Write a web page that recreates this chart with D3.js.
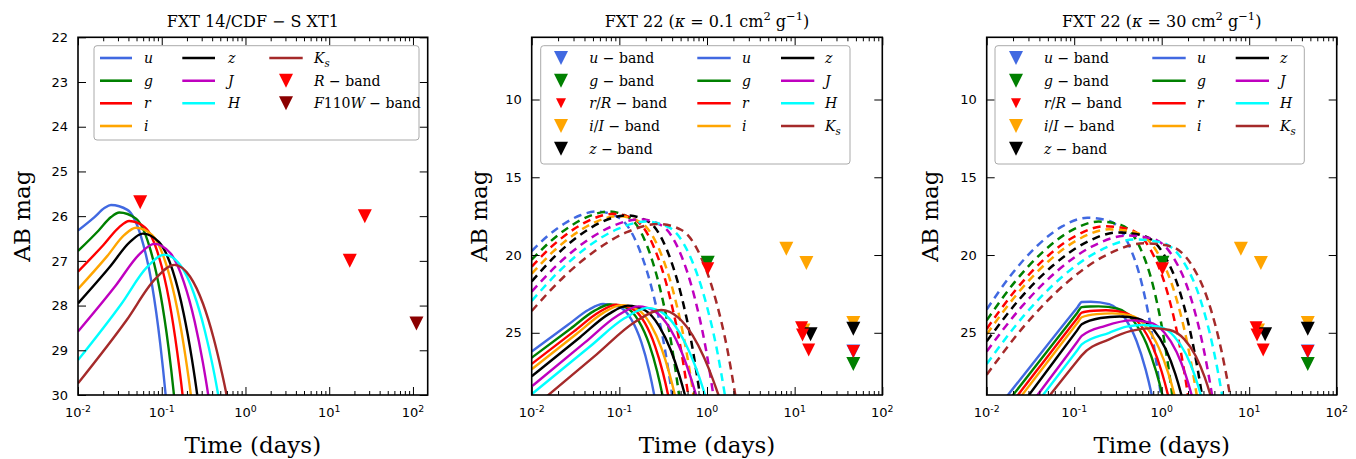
<!DOCTYPE html>
<html><head><meta charset="utf-8">
<script src="https://cdn.jsdelivr.net/npm/d3@7"></script>
<style>body{margin:0;background:#fff}svg{display:block}</style>
</head><body>
<svg id="c" width="1356" height="459"></svg>
<script>
// ---------------- DATA ----------------
const bands = ["u","g","r","i","z","J","H","Ks"];
const xDecadesLeft = [0.01,0.1,1,10,100];
const xDecades = [0.01,0.1,1,10,100];
const yTicksLeft = [22,23,24,25,26,27,28,29,30];
const yTicksMid = [10,15,20,25];
const yTicksRight = [10,15,20,25];

// Panel 1: FXT 14 / CDF-S XT1  [time (days), AB mag]
const fxt14_u = [[0.0100,26.32],[0.01574,26.02],[0.02065,25.82],[0.02477,25.75],[0.0389,25.86],[0.0566,26.46],[0.0766,27.54],[0.0959,28.85],[0.1114,30.0],[0.1294,31.4]];
const fxt14_g = [[0.0100,26.78],[0.01764,26.32],[0.02480,26.02],[0.03112,25.92],[0.0489,26.05],[0.0711,26.67],[0.0961,27.72],[0.1205,28.94],[0.1400,30.0],[0.1626,31.3]];
const fxt14_r = [[0.0100,27.24],[0.02023,26.64],[0.0309,26.25],[0.0409,26.11],[0.0635,26.26],[0.0916,26.88],[0.1230,27.90],[0.1531,29.04],[0.1774,30.0],[0.2056,31.2]];
const fxt14_i = [[0.0100,27.63],[0.02218,26.90],[0.0358,26.42],[0.0492,26.26],[0.0774,26.43],[0.1130,27.08],[0.1528,28.06],[0.1914,29.12],[0.2228,30.0],[0.2594,31.1]];
const fxt14_z = [[0.0100,27.95],[0.02432,27.12],[0.0415,26.58],[0.0592,26.39],[0.0929,26.58],[0.1352,27.22],[0.1824,28.17],[0.2286,29.18],[0.2655,30.0],[0.3083,31.0]];
const fxt14_J = [[0.0100,28.58],[0.02854,27.54],[0.0536,26.86],[0.0815,26.62],[0.1271,26.83],[0.1841,27.48],[0.2477,28.36],[0.3097,29.27],[0.3589,30.0],[0.4159,30.9]];
const fxt14_H = [[0.0100,29.22],[0.03273,27.97],[0.0667,27.14],[0.1072,26.86],[0.1671,27.10],[0.2421,27.73],[0.3258,28.55],[0.4074,29.36],[0.4721,30.0],[0.5470,30.8]];
const fxt14_Ks = [[0.0100,29.74],[0.0376,28.34],[0.0832,27.41],[0.1413,27.09],[0.2173,27.35],[0.3112,27.96],[0.4150,28.72],[0.5152,29.45],[0.5943,30.0],[0.6861,30.7]];
const fxt14_Rband = [[0.0553,25.69],[17.6,27.0],[26.6,26.0]];
const fxt14_F110W = [[110,28.4]];

// Panel 2: FXT 22, kappa = 0.1 (solid)
const k01_u = [[0.0100,26.20],[0.02550,24.52],[0.04472,23.52],[0.0650,23.15],[0.0974,23.31],[0.1364,24.12],[0.1785,25.62],[0.2185,27.42],[0.250,29.0],[0.286,30.94]];
const k01_g = [[0.0100,26.60],[0.02793,24.72],[0.05170,23.59],[0.0780,23.18],[0.1179,23.37],[0.1665,24.25],[0.2194,25.75],[0.2699,27.49],[0.310,29.0],[0.3556,30.82]];
const k01_r = [[0.0100,27.00],[0.03034,24.91],[0.05904,23.66],[0.0920,23.20],[0.1385,23.43],[0.1948,24.35],[0.2559,25.87],[0.3140,27.56],[0.360,29.0],[0.4122,30.70]];
const k01_i = [[0.0100,27.35],[0.03238,25.08],[0.06559,23.72],[0.1050,23.22],[0.1602,23.49],[0.2278,24.48],[0.3020,25.99],[0.3730,27.64],[0.430,29.0],[0.4944,30.59]];
const k01_z = [[0.0100,27.80],[0.03536,25.30],[0.07543,23.80],[0.1250,23.25],[0.1960,23.55],[0.2851,24.58],[0.3847,26.09],[0.4818,27.70],[0.560,29.0],[0.6502,30.51]];
const k01_J = [[0.0100,28.45],[0.04060,25.62],[0.09410,23.92],[0.1650,23.30],[0.2597,23.66],[0.3793,24.74],[0.5134,26.24],[0.6445,27.78],[0.750,29.0],[0.8724,30.40]];
const k01_H = [[0.0100,28.95],[0.04581,25.90],[0.1142,24.07],[0.2100,23.40],[0.3302,23.82],[0.4817,24.95],[0.6516,26.42],[0.8175,27.86],[0.950,29.0],[1.105,30.27]];
const k01_Ks = [[0.0100,29.90],[0.05474,26.40],[0.1519,24.29],[0.3000,23.53],[0.4709,24.02],[0.6855,25.17],[0.9262,26.59],[1.161,27.96],[1.350,29.0],[1.568,30.15]];
// Panel 2 dashed
const k01d_u = [[0.0100,19.75],[0.01531,18.76],[0.02344,17.99],[0.03589,17.44],[0.0550,17.2],[0.0997,17.61],[0.1637,19.44],[0.2434,22.51],[0.3280,25.93],[0.400,29.0],[0.4877,32.5]];
const k01d_g = [[0.0100,20.30],[0.01656,19.10],[0.02738,18.16],[0.04530,17.50],[0.0750,17.2],[0.1309,17.61],[0.2081,19.44],[0.3016,22.51],[0.3985,25.93],[0.480,29.0],[0.5776,32.5]];
const k01d_r = [[0.0100,20.75],[0.01707,19.43],[0.02914,18.40],[0.04972,17.67],[0.0849,17.35],[0.1534,17.76],[0.2511,19.56],[0.3724,22.59],[0.5005,25.97],[0.610,29.0],[0.7420,32.5]];
const k01d_i = [[0.0100,21.20],[0.01766,19.77],[0.03114,18.64],[0.05498,17.85],[0.0970,17.5],[0.1755,17.90],[0.2876,19.69],[0.4271,22.68],[0.5743,26.01],[0.700,29.0],[0.8527,32.45]];
const k01d_z = [[0.0100,21.70],[0.01861,20.06],[0.03463,18.76],[0.06445,17.85],[0.1200,17.45],[0.2143,17.85],[0.3475,19.65],[0.5117,22.65],[0.6839,26.0],[0.830,29.0],[1.007,32.5]];
const k01d_J = [[0.0100,22.35],[0.02030,20.55],[0.04121,19.13],[0.08366,18.14],[0.1698,17.7],[0.3038,18.10],[0.4932,19.85],[0.7270,22.79],[0.9723,26.06],[1.180,29.0],[1.433,32.4]];
const k01d_H = [[0.0100,22.95],[0.02114,20.98],[0.04471,19.42],[0.09456,18.34],[0.2000,17.85],[0.3731,18.24],[0.6274,19.97],[0.9511,22.87],[1.299,26.10],[1.600,29.0],[1.969,32.35]];
const k01d_Ks = [[0.0100,23.60],[0.02300,21.43],[0.05290,19.73],[0.1217,18.53],[0.2799,18.0],[0.5123,18.39],[0.8476,20.09],[1.268,22.95],[1.716,26.14],[2.100,29.0],[2.568,32.3]];

// Panel 3: FXT 22, kappa = 30 (solid)
const k30_u = [[0.0139,29.71],[0.0175,29.0],[0.1086,23.37],[0.122,23.02],[0.155,23.0],[0.2506,23.16],[0.3742,24.0],[0.5158,25.53],[0.6557,27.37],[0.770,29.0],[0.904,30.99]];
const k30_g = [[0.01589,29.72],[0.0200,29.0],[0.1086,23.71],[0.122,23.35],[0.152,23.31],[0.190,23.3],[0.3147,23.45],[0.4789,24.25],[0.6702,25.71],[0.8621,27.46],[1.02,29.0],[1.207,30.89]];
const k30_r = [[0.01811,29.73],[0.0228,29.0],[0.1086,24.06],[0.122,23.70],[0.1675,23.58],[0.230,23.55],[0.3758,23.70],[0.5654,24.46],[0.7843,25.85],[1.002,27.52],[1.18,29.0],[1.39,30.8]];
const k30_i = [[0.02014,29.73],[0.0254,29.0],[0.1086,24.37],[0.122,24.0],[0.1816,23.8],[0.270,23.75],[0.4422,23.89],[0.6677,24.62],[0.9277,25.97],[1.187,27.58],[1.40,29.0],[1.651,30.74]];
const k30_z = [[0.02415,29.75],[0.0304,29.0],[0.1086,24.83],[0.122,24.45],[0.2005,24.05],[0.330,23.95],[0.5376,24.09],[0.8078,24.79],[1.118,26.08],[1.427,27.63],[1.68,29.0],[1.977,30.67]];
const k30_J = [[0.03027,29.75],[0.0381,29.0],[0.1086,25.58],[0.122,25.2],[0.2272,24.55],[0.45,24.2],[0.7244,24.33],[1.077,25.0],[1.480,26.23],[1.877,27.70],[2.2,29.0],[2.578,30.59]];
const k30_H = [[0.035,29.74],[0.0441,29.0],[0.1086,26.12],[0.122,25.75],[0.2512,25.0],[0.398,24.6],[0.6,24.5],[0.9526,24.62],[1.400,25.25],[1.905,26.40],[2.401,27.78],[2.8,29.0],[3.267,30.49]];
const k30_Ks = [[0.04207,29.70],[0.0530,29.0],[0.1086,26.80],[0.122,26.45],[0.2512,25.42],[0.4467,24.88],[0.78,24.7],[1.234,24.82],[1.809,25.41],[2.456,26.51],[3.090,27.84],[3.6,29.0],[4.196,30.42]];
// Panel 3 dashed
const k30d_u = [[0.0100,23.50],[0.01938,21.22],[0.03758,19.42],[0.07286,18.16],[0.1413,17.6],[0.2523,17.81],[0.4093,19.19],[0.6026,22.01],[0.8054,25.65],[0.9772,29.0],[1.186,33.2]];
const k30d_g = [[0.0100,24.20],[0.02089,21.74],[0.04365,19.81],[0.09120,18.45],[0.1905,17.85],[0.3404,18.06],[0.5521,19.40],[0.8128,22.17],[1.086,25.72],[1.318,29.0],[1.600,33.1]];
const k30d_r = [[0.0100,24.75],[0.02175,22.20],[0.04732,20.18],[0.1029,18.78],[0.2239,18.15],[0.4315,18.35],[0.7454,19.66],[1.155,22.35],[1.603,25.81],[1.995,29.0],[2.483,33.0]];
const k30d_i = [[0.0100,25.10],[0.02239,22.49],[0.05012,20.43],[0.1122,18.99],[0.2512,18.35],[0.5012,18.55],[0.8913,19.83],[1.413,22.47],[1.995,25.87],[2.512,29.0],[3.162,32.9]];
const k30d_z = [[0.0100,25.55],[0.02371,22.84],[0.05623,20.71],[0.1334,19.22],[0.3162,18.55],[0.6138,18.75],[1.067,20.0],[1.660,22.59],[2.312,25.93],[2.884,29.0],[3.597,32.9]];
const k30d_J = [[0.0100,26.20],[0.02512,23.32],[0.06310,21.05],[0.1585,19.46],[0.3981,18.75],[0.7806,18.94],[1.369,20.18],[2.145,22.72],[3.003,25.99],[3.758,29.0],[4.704,32.8]];
const k30d_H = [[0.0100,27.00],[0.02661,23.90],[0.07079,21.46],[0.1884,19.76],[0.5012,19.0],[0.9931,19.19],[1.756,20.39],[2.770,22.87],[3.899,26.06],[4.898,29.0],[6.152,32.7]];
const k30d_Ks = [[0.0100,27.70],[0.02818,24.43],[0.07943,21.85],[0.2239,20.05],[0.6310,19.25],[1.242,19.43],[2.183,20.61],[3.428,23.02],[4.808,26.13],[6.026,29.0],[7.551,32.6]];

// FXT 22 upper limits (both right panels)
const fxt22_uband = [[46.7,26.2]];
const fxt22_gband = [[1.02,20.5],[46.7,27.0]];
const fxt22_iband = [[8.03,19.59],[13.6,20.51],[12.6,24.85],[46.7,24.37]];
const fxt22_zband = [[15.2,25.1],[46.7,24.74]];
const fxt22_rband = [[1.02,20.88],[12.0,24.67],[12.3,25.14],[14.45,26.11],[46.7,26.2]];

// ---------------- STYLE ----------------
const C = {u:"#4169e1", g:"#008000", r:"#ff0000", i:"#ffa500", z:"#000000", J:"#bf00bf", H:"#00ffff", Ks:"#a52a2a"};
const SERIF = "'DejaVu Serif', serif";
const SANS = "'DejaVu Sans', sans-serif";
const svg = d3.select("#c");

function tri(s){ const h=s/2; return `M${-h},${-h}L${h},${-h}L0,${h}Z`; }

function rich(sel, parts, size){
  let shift = 0;
  parts.forEach(([s,type])=>{
    const ts = sel.append("tspan").text(s);
    let target = 0, fs = size;
    if(type==="sup"){ target = -0.42*size; fs = 0.72*size; }
    if(type==="isub"){ target = 0.28*size; fs = 0.72*size; }
    ts.attr("dy", target-shift).attr("font-size", fs);
    shift = target;
    if(type==="i" || type==="isub") ts.attr("font-style","italic");
  });
}

function drawPanel(cfg){
  const x = d3.scaleLog().domain(cfg.xdom).range([cfg.left, cfg.right]);
  const y = d3.scaleLinear().domain(cfg.ydom).range([cfg.top, cfg.bottom]);
  const g = svg.append("g");
  const cid = "clip"+cfg.id;
  svg.append("clipPath").attr("id",cid).append("rect")
    .attr("x",cfg.left).attr("y",cfg.top).attr("width",cfg.right-cfg.left).attr("height",cfg.bottom-cfg.top);
  const plot = g.append("g").attr("clip-path",`url(#${cid})`);
  const line = d3.line().x(d=>x(d[0])).y(d=>y(d[1])).curve(d3.curveMonotoneX);
  (cfg.dashed||[]).forEach(s=>{
    plot.append("path").attr("d",line(s.data)).attr("fill","none")
      .attr("stroke",s.color).attr("stroke-width",2.5).attr("stroke-dasharray","8,5.5");
  });
  cfg.solid.forEach(s=>{
    plot.append("path").attr("d",line(s.data)).attr("fill","none")
      .attr("stroke",s.color).attr("stroke-width",2.4);
  });
  cfg.markers.forEach(m=>{
    m.data.forEach(d=>{
      plot.append("path").attr("d",tri(m.size)).attr("fill",m.color)
        .attr("transform",`translate(${x(d[0])},${y(d[1])})`);
    });
  });

  // axes
  const minor = [];
  cfg.decades.forEach(d=>{ for(let k=2;k<10;k++){ const v=d*k; if(v<=cfg.xdom[1]) minor.push(v);} });
  const ax = [];
  ax.push(g.append("g").attr("transform",`translate(0,${cfg.bottom})`)
    .call(d3.axisBottom(x).tickValues(cfg.decades).tickSizeInner(-8).tickSizeOuter(0).tickFormat("")));
  ax.push(g.append("g").attr("transform",`translate(0,${cfg.bottom})`)
    .call(d3.axisBottom(x).tickValues(minor).tickSizeInner(-4).tickSizeOuter(0).tickFormat("")));
  ax.push(g.append("g").attr("transform",`translate(0,${cfg.top})`)
    .call(d3.axisTop(x).tickValues(cfg.decades).tickSizeInner(-8).tickSizeOuter(0).tickFormat("")));
  ax.push(g.append("g").attr("transform",`translate(0,${cfg.top})`)
    .call(d3.axisTop(x).tickValues(minor).tickSizeInner(-4).tickSizeOuter(0).tickFormat("")));
  ax.push(g.append("g").attr("transform",`translate(${cfg.left},0)`)
    .call(d3.axisLeft(y).tickValues(cfg.yticks).tickSizeInner(-8).tickSizeOuter(0).tickFormat("")));
  ax.push(g.append("g").attr("transform",`translate(${cfg.right},0)`)
    .call(d3.axisRight(y).tickValues(cfg.yticks).tickSizeInner(-8).tickSizeOuter(0).tickFormat("")));
  ax.forEach(a=>{ a.select(".domain").remove(); a.selectAll("line").attr("stroke","#000").attr("stroke-width",1); a.selectAll("text").remove(); });

  g.append("rect").attr("x",cfg.left).attr("y",cfg.top).attr("width",cfg.right-cfg.left)
    .attr("height",cfg.bottom-cfg.top).attr("fill","none").attr("stroke","#000").attr("stroke-width",1.6);

  // tick labels
  cfg.decades.forEach(d=>{
    const t = g.append("text").attr("x",x(d)).attr("y",cfg.bottom+22).attr("text-anchor","middle")
      .attr("font-family",SANS).attr("fill","#000");
    rich(t, [["10",""],[String(Math.round(Math.log10(d))),"sup"]], 13);
  });
  cfg.yticks.forEach(v=>{
    g.append("text").attr("x",cfg.left-10).attr("y",y(v)).attr("dy","0.36em").attr("text-anchor","end")
      .attr("font-family",SANS).attr("font-size",13).text(v);
  });
  // labels
  const cx = (cfg.left+cfg.right)/2, cy=(cfg.top+cfg.bottom)/2;
  g.append("text").attr("x",cx).attr("y",453).attr("text-anchor","middle")
    .attr("font-family",SERIF).attr("font-size",23).text("Time (days)");
  g.append("text").attr("transform",`translate(${cfg.ylabX},${cy}) rotate(-90)`).attr("text-anchor","middle")
    .attr("font-family",SERIF).attr("font-size",23).text("AB mag");
  const tt = g.append("text").attr("x",cx).attr("y",27).attr("text-anchor","middle")
    .attr("font-family",SERIF).attr("font-size",16);
  rich(tt, cfg.title, 16);
}

const solid14 = [fxt14_u,fxt14_g,fxt14_r,fxt14_i,fxt14_z,fxt14_J,fxt14_H,fxt14_Ks].map((d,k)=>({data:d,color:C[bands[k]]}));
const solid01 = [k01_u,k01_g,k01_r,k01_i,k01_z,k01_J,k01_H,k01_Ks].map((d,k)=>({data:d,color:C[bands[k]]}));
const dash01 = [k01d_u,k01d_g,k01d_r,k01d_i,k01d_z,k01d_J,k01d_H,k01d_Ks].map((d,k)=>({data:d,color:C[bands[k]]}));
const solid30 = [k30_u,k30_g,k30_r,k30_i,k30_z,k30_J,k30_H,k30_Ks].map((d,k)=>({data:d,color:C[bands[k]]}));
const dash30 = [k30d_u,k30d_g,k30d_r,k30d_i,k30d_z,k30d_J,k30d_H,k30d_Ks].map((d,k)=>({data:d,color:C[bands[k]]}));
const fxt22Markers = [
  {data:fxt22_uband,color:C.u,size:14},
  {data:fxt22_gband,color:C.g,size:14},
  {data:fxt22_iband,color:C.i,size:14},
  {data:fxt22_zband,color:C.z,size:14},
  {data:fxt22_rband,color:C.r,size:13}
];

drawPanel({id:1,left:78,right:427.7,top:37.3,bottom:395,xdom:[0.01,150],ydom:[22,30],
  decades:xDecadesLeft,yticks:yTicksLeft,ylabX:30,
  title:[["FXT 14/CDF − S XT1",""]],
  solid:solid14,
  markers:[{data:fxt14_Rband,color:"#ff0000",size:14},{data:fxt14_F110W,color:"#8b0000",size:14}]});
drawPanel({id:2,left:531.7,right:882.3,top:37.3,bottom:395,xdom:[0.01,100],ydom:[6,29],
  decades:xDecades,yticks:yTicksMid,ylabX:487,
  title:[["FXT 22 (",""],["κ","i"],[" = 0.1 cm",""],["2","sup"],[" g",""],["−1","sup"],[")",""]],
  dashed:dash01,solid:solid01,markers:fxt22Markers});
drawPanel({id:3,left:986.7,right:1336.7,top:37.3,bottom:395,xdom:[0.01,100],ydom:[6,29],
  decades:xDecades,yticks:yTicksRight,ylabX:938,
  title:[["FXT 22 (",""],["κ","i"],[" = 30 cm",""],["2","sup"],[" g",""],["−1","sup"],[")",""]],
  dashed:dash30,solid:solid30,markers:fxt22Markers});

// ---------------- LEGENDS ----------------
const rows = [58,80.7,103.3,126,148.7];
function box(x,y,w,h){ svg.append("rect").attr("x",x).attr("y",y).attr("width",w).attr("height",h).attr("rx",3)
  .attr("fill","#fff").attr("stroke","#aaaaaa").attr("stroke-width",1); }
function lline(x0,x1,yy,color){ svg.append("line").attr("x1",x0).attr("x2",x1).attr("y1",yy).attr("y2",yy)
  .attr("stroke",color).attr("stroke-width",2.6); }
function lmark(xx,yy,color,s){ svg.append("path").attr("d",tri(s)).attr("fill",color).attr("transform",`translate(${xx},${yy})`); }
function ltext(xx,yy,parts){ const t=svg.append("text").attr("x",xx).attr("y",yy+5).attr("font-family",SERIF); rich(t,parts,14); }
const bandLabel = {u:[["u","i"]],g:[["g","i"]],r:[["r","i"]],i:[["i","i"]],z:[["z","i"]],J:[["J","i"]],H:[["H","i"]],Ks:[["K","i"],["s","isub"]]};

// Legend panel 1
box(94,45.7,325,94.3);
["u","g","r","i"].forEach((b,k)=>{ lline(100,132,rows[k],C[b]); ltext(144,rows[k],bandLabel[b]); });
["z","J","H"].forEach((b,k)=>{ lline(182.3,215,rows[k],C[b]); ltext(228,rows[k],bandLabel[b]); });
lline(269.3,302.7,rows[0],C.Ks); ltext(314,rows[0],bandLabel.Ks);
lmark(286,rows[1],"#ff0000",14); ltext(314,rows[1],[["R","i"],[" − band",""]]);
lmark(286,rows[2],"#8b0000",14); ltext(314,rows[2],[["F","i"],["110",""],["W","i"],[" − band",""]]);

// Legends panels 2 and 3
function legend22(bx, mx, tx, l1a, l1b, t1, l2a, l2b, t2){
  box(bx,45.7,309.3,118.3);
  const mk = [
    [C.u,14,[["u","i"],[" − band",""]]],
    [C.g,14,[["g","i"],[" − band",""]]],
    [C.r,10,[["r","i"],["/",""],["R","i"],[" − band",""]]],
    [C.i,14,[["i","i"],["/",""],["I","i"],[" − band",""]]],
    [C.z,14,[["z","i"],[" − band",""]]]
  ];
  mk.forEach((m,k)=>{ lmark(mx,rows[k],m[0],m[1]); ltext(tx,rows[k],m[2]); });
  ["u","g","r","i"].forEach((b,k)=>{ lline(l1a,l1b,rows[k],C[b]); ltext(t1,rows[k],bandLabel[b]); });
  ["z","J","H","Ks"].forEach((b,k)=>{ lline(l2a,l2b,rows[k],C[b]); ltext(t2,rows[k],bandLabel[b]); });
}
legend22(540.7, 561, 589.3, 697.3, 730.7, 742, 781, 814.3, 825);
legend22(995, 1016, 1044, 1152.3, 1185.7, 1197, 1235.7, 1269, 1280);
</script>
</body></html>
